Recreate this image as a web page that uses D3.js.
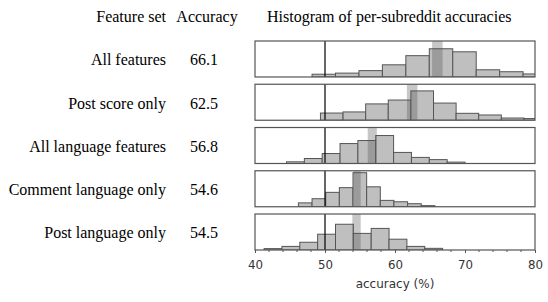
<!DOCTYPE html>
<html>
<head>
<meta charset="utf-8">
<script src="https://cdn.jsdelivr.net/npm/d3@7"></script>
<style>
  body { margin: 0; background: #fff; }
  .serif { font-family: "Liberation Serif", "Times New Roman", serif; font-size: 16px; fill: #000; }
  .axis text { font-family: "DejaVu Sans", sans-serif; font-size: 11.8px; fill: #333; }
  .xlabel { font-family: "DejaVu Sans", sans-serif; font-size: 12px; fill: #333; }
</style>
</head>
<body>
<svg id="chart" width="548" height="302"></svg>
<script>
  // feature sets and their overall accuracy
  var featureSets = ["All features", "Post score only", "All language features", "Comment language only", "Post language only"];
  var accuracy = [66.1, 62.5, 56.8, 54.6, 54.5];
  // confidence band around each accuracy
  var ciLow = [65.3, 61.7, 56.1, 54.1, 53.9];
  var ciHigh = [66.8, 63.2, 57.4, 55.1, 55.1];
  // histogram bins (uniform): first edge and width
  var binStart = [48.15, 49.35, 44.5, 46.2, 41.3];
  var binWidth = [3.35, 3.23, 2.55, 1.95, 2.55];
  // per-subreddit counts in each bin
  var counts = [
    [1.0, 1.4, 2.3, 4.4, 7.7, 10.2, 9.1, 2.6, 1.9, 1.1],
    [2.6, 3.0, 5.9, 7.3, 10.6, 6.2, 2.5, 1.9, 0.8, 0.6],
    [0.6, 1.8, 3.6, 7.2, 8.3, 10.1, 4.0, 2.2, 1.4, 0.5],
    [1.4, 2.9, 5.2, 6.9, 12.3, 7.2, 2.3, 1.8, 1.1, 0.4],
    [0.5, 1.3, 2.8, 5.7, 9.3, 6.0, 7.8, 3.9, 1.3, 0.6]
  ];
  var majorTicks = [40, 50, 60, 70, 80];
  var minorTicks = d3.range(42, 80, 2).filter(function(v) { return v % 10 !== 0; });
  var chanceLevel = 50;

  var svg = d3.select("#chart");

  var x = d3.scaleLinear().domain([40, 80]).range([255, 535]);
  var row = d3.scaleBand().domain(featureSets).range([41, 250]).paddingInner(0.168).paddingOuter(0);
  var y = d3.scaleLinear().domain([0, 13]).range([row.bandwidth(), 0]);

  svg.append("defs").append("clipPath").attr("id", "panelClip")
    .append("rect").attr("x", x(40)).attr("y", 0)
    .attr("width", x(80) - x(40)).attr("height", row.bandwidth());

  // headers
  svg.append("text").attr("class", "serif").attr("x", 166).attr("y", 22)
    .attr("text-anchor", "end").text("Feature set");
  svg.append("text").attr("class", "serif").attr("x", 207).attr("y", 22)
    .attr("text-anchor", "middle").text("Accuracy");
  svg.append("text").attr("class", "serif").attr("x", 267).attr("y", 22)
    .text("Histogram of per-subreddit accuracies");

  featureSets.forEach(function(name, i) {
    var top = row(name);
    var g = svg.append("g").attr("transform", "translate(0," + top + ")");

    g.append("text").attr("class", "serif").attr("x", 166).attr("y", row.bandwidth() / 2 + 6.5)
      .attr("text-anchor", "end").text(name);
    g.append("text").attr("class", "serif").attr("x", 204).attr("y", row.bandwidth() / 2 + 6.5)
      .attr("text-anchor", "middle").text(accuracy[i].toFixed(1));

    var bins = counts[i].map(function(c, j) {
      return { x0: binStart[i] + j * binWidth[i], x1: binStart[i] + (j + 1) * binWidth[i], n: c };
    });

    var inner = g.append("g").attr("clip-path", "url(#panelClip)");
    inner.selectAll("rect.bar")
      .data(bins)
      .enter().append("rect")
        .attr("class", "bar")
        .attr("x", function(d) { return x(d.x0); })
        .attr("width", function(d) { return x(d.x1) - x(d.x0); })
        .attr("y", function(d) { return y(d.n); })
        .attr("height", function(d) { return y(0) - y(d.n); })
        .attr("fill", "#bfbfbf")
        .attr("stroke", "#555")
        .attr("stroke-width", 1);

    inner.append("rect")
      .attr("x", x(ciLow[i])).attr("width", x(ciHigh[i]) - x(ciLow[i]))
      .attr("y", 0).attr("height", row.bandwidth())
      .attr("fill", "#505050").attr("fill-opacity", 0.32);

    g.append("line")
      .attr("x1", x(chanceLevel)).attr("x2", x(chanceLevel))
      .attr("y1", 0).attr("y2", row.bandwidth())
      .attr("stroke", "#000").attr("stroke-width", 1.2);

    g.append("rect")
      .attr("x", x(40)).attr("y", 0)
      .attr("width", x(80) - x(40)).attr("height", row.bandwidth())
      .attr("fill", "none").attr("stroke", "#555").attr("stroke-width", 1.2);
  });

  var axisY = row(featureSets[featureSets.length - 1]) + row.bandwidth();
  var axis = svg.append("g").attr("class", "axis").attr("transform", "translate(0," + axisY + ")");
  axis.call(d3.axisBottom(x).tickValues(majorTicks).tickSize(3).tickPadding(8).tickFormat(d3.format("d")));
  axis.select(".domain").remove();
  axis.selectAll(".tick line").attr("stroke", "#555");
  axis.selectAll(".minor")
    .data(minorTicks)
    .enter().append("line")
      .attr("class", "minor")
      .attr("x1", function(d) { return x(d); }).attr("x2", function(d) { return x(d); })
      .attr("y1", 0).attr("y2", 2)
      .attr("stroke", "#555");

  svg.append("text").attr("class", "xlabel")
    .attr("x", x(60)).attr("y", 288).attr("text-anchor", "middle")
    .text("accuracy (%)");
</script>
</body>
</html>
